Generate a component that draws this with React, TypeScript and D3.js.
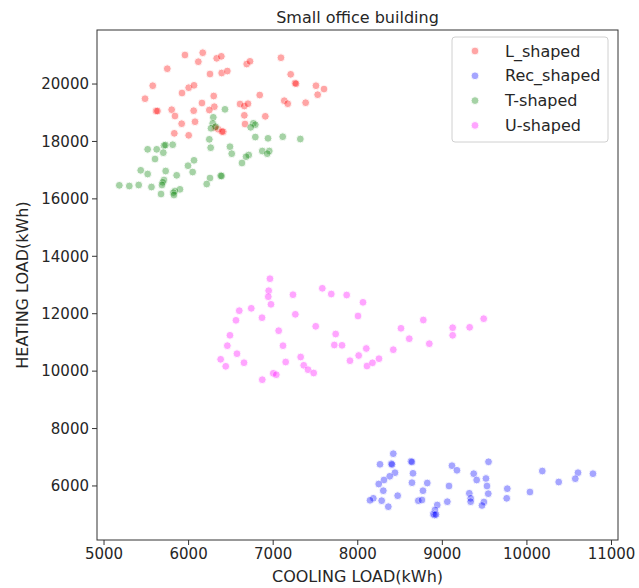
import React from "react";
import * as d3 from "d3";

type P = [number, number];

const lShaped: P[] = [
  [5957, 21011], [6167, 21090], [6115, 20777], [6332, 20896], [6387, 20965],
  [5748, 20533], [5576, 19941], [6253, 20349], [6391, 20384], [6458, 20453],
  [6687, 20697], [6726, 20791], [7092, 20916], [7207, 20338], [7258, 20035],
  [7270, 20010], [7506, 19941], [7601, 19826], [7526, 19628], [5922, 19687],
  [6001, 19872], [6064, 19955], [6297, 19583], [6841, 19617], [6158, 19339],
  [6304, 19210], [6245, 19095], [6060, 19071], [5800, 19105], [5615, 19060],
  [5632, 19060], [5839, 18886], [6608, 19304], [6659, 19234], [6702, 19314],
  [7131, 19419], [7172, 19314], [7384, 19349], [6659, 18910], [6907, 18875],
  [6667, 18607], [6076, 18687], [5918, 18618], [5831, 18283], [6001, 18214],
  [6351, 18423], [6410, 18339], [6395, 18345], [6312, 18479], [5485, 19489],
];

const recShaped: P[] = [
  [8420, 7124], [8263, 6755], [8397, 6776], [8405, 6748], [8629, 6859],
  [8641, 6835], [8653, 6441], [8641, 6114], [8822, 6103], [8771, 5835],
  [9114, 6706], [9173, 6546], [9546, 6842], [9371, 6427], [9406, 6208],
  [9516, 6260], [9528, 5999], [9543, 5731], [9768, 5905], [9761, 5570],
  [8440, 6462], [8378, 6337], [8310, 6208], [8248, 6068], [8302, 5835],
  [8472, 5661], [8184, 5570], [8145, 5501], [8283, 5487], [8361, 5278],
  [8716, 5487], [8759, 5511], [9079, 5999], [9059, 5452], [9319, 5745],
  [9335, 5570], [9335, 5452], [9492, 5442], [9469, 5320], [8940, 5337],
  [8913, 5163], [8893, 5024], [8907, 4989], [8925, 5006], [10182, 6521],
  [10036, 5790], [10376, 6138], [10604, 6462], [10572, 6253], [10781, 6427],
];

const tShaped: P[] = [
  [6430, 19119], [6292, 18841], [6285, 18632], [6265, 18458], [6320, 18513],
  [6765, 18632], [6789, 18583], [6734, 18492], [6789, 18154], [6939, 18109],
  [7113, 18165], [7321, 18085], [6245, 18074], [6261, 17782], [6489, 17817],
  [6510, 17573], [5709, 17858], [5727, 17876], [5812, 17886], [5623, 17726],
  [5701, 17608], [5516, 17726], [5603, 17388], [6711, 17528], [6679, 17468],
  [6631, 17249], [6871, 17667], [6954, 17667], [6930, 17573], [6064, 17343],
  [5993, 17155], [6048, 16935], [5729, 16970], [5859, 16821], [5434, 16995],
  [5516, 16866], [6379, 16807], [6389, 16796], [6253, 16726], [6214, 16517],
  [5709, 16657], [5694, 16577], [5561, 16413], [5685, 16483], [5898, 16333],
  [5839, 16274], [5819, 16214], [5674, 16169], [5827, 16134], [5181, 16472],
  [5299, 16448], [5410, 16483],
];

const uShaped: P[] = [
  [6962, 13219], [6947, 12801], [6942, 12592], [6974, 12327], [7234, 12662],
  [7581, 12885], [7687, 12686], [7869, 12651], [8062, 12397], [8003, 11920],
  [6599, 12105], [6741, 12188], [6560, 11770], [6868, 11861], [7262, 11979],
  [7503, 11561], [7065, 11408], [6489, 11248], [6458, 10886], [7116, 10886],
  [6572, 10607], [7739, 11293], [7723, 10910], [7814, 10899], [8101, 10788],
  [8011, 10544], [7908, 10363], [8251, 10433], [8109, 10178], [8174, 10290],
  [6379, 10412], [6439, 10168], [6655, 10293], [7325, 10492], [7361, 10203],
  [7412, 10050], [7479, 9935], [7148, 10318], [7001, 9924], [7037, 9875],
  [6871, 9701], [8775, 11781], [8511, 11492], [9122, 11512], [9323, 11526],
  [9489, 11826], [9122, 11248], [8609, 11129], [8846, 10955], [8420, 10746],
];

const seriesNames = ["L_shaped", "Rec_shaped", "T-shaped", "U-shaped"];
const seriesData = [lShaped, recShaped, tShaped, uShaped];
const seriesColors = ["#ff0000", "#0000ff", "#008000", "#ff00ff"];

const xTicks = [5000, 6000, 7000, 8000, 9000, 10000, 11000];
const yTicks = [6000, 8000, 10000, 12000, 14000, 16000, 18000, 20000];

const title = "Small office building";
const xLabel = "COOLING LOAD(kWh)";
const yLabel = "HEATING LOAD(kWh)";

const W = 639;
const H = 588;
const left = 97;
const right = 618;
const top = 30;
const bottom = 540;
const FONT = "DejaVu Sans, sans-serif";
const ALPHA = 0.35;
const R = 3.9;

export default function App() {
  const x = d3.scaleLinear().domain([4917, 11077]).range([left, right]);
  const y = d3.scaleLinear().domain([4118, 21882]).range([bottom, top]);
  const textColor = "#262626";

  return (
    <svg
      width={W}
      height={H}
      style={{ position: "absolute", left: 0, top: 0, background: "#fff" }}
      fontFamily={FONT}
    >
      <rect x={0} y={0} width={W} height={H} fill="#fff" />
      {/* points */}
      <g>
        {seriesData.map((data, si) =>
          data.map((d, i) => (
            <circle
              key={`${si}-${i}`}
              cx={x(d[0])}
              cy={y(d[1])}
              r={R}
              fill={seriesColors[si]}
              stroke="#fff"
              strokeWidth={0.9}
              opacity={ALPHA}
            />
          ))
        )}
      </g>
      {/* frame */}
      <rect
        x={left}
        y={top}
        width={right - left}
        height={bottom - top}
        fill="none"
        stroke="#333"
        strokeWidth={1}
      />
      {/* x ticks */}
      {xTicks.map((t) => (
        <g key={`x${t}`}>
          <line x1={x(t)} x2={x(t)} y1={bottom} y2={bottom + 5} stroke="#333" strokeWidth={1} />
          <text x={x(t)} y={bottom + 19} textAnchor="middle" fontSize={15} fill={textColor}>
            {t}
          </text>
        </g>
      ))}
      {/* y ticks */}
      {yTicks.map((t) => (
        <g key={`y${t}`}>
          <line x1={left - 5} x2={left} y1={y(t)} y2={y(t)} stroke="#333" strokeWidth={1} />
          <text
            x={left - 8}
            y={y(t)}
            dy="0.35em"
            textAnchor="end"
            fontSize={15}
            fill={textColor}
          >
            {t}
          </text>
        </g>
      ))}
      {/* labels */}
      <text
        x={(left + right) / 2}
        y={582}
        textAnchor="middle"
        fontSize={16}
        fill={textColor}
      >
        {xLabel}
      </text>
      <text
        transform={`translate(28,${(top + bottom) / 2}) rotate(-90)`}
        textAnchor="middle"
        fontSize={16}
        fill={textColor}
      >
        {yLabel}
      </text>
      <text
        x={(left + right) / 2}
        y={23}
        textAnchor="middle"
        fontSize={16}
        fill={textColor}
      >
        {title}
      </text>
      {/* legend */}
      <g>
        <rect
          x={452}
          y={37}
          width={156}
          height={105}
          rx={3}
          fill="#fff"
          fillOpacity={0.8}
          stroke="#d0d0d0"
          strokeWidth={1}
        />
        {seriesNames.map((n, i) => (
          <g key={n} transform={`translate(0,${51 + i * 24.8})`}>
            <circle
              cx={475}
              cy={0}
              r={R}
              fill={seriesColors[i]}
              stroke="#fff"
              strokeWidth={0.9}
              opacity={ALPHA}
            />
            <text x={505} y={0} dy="0.35em" fontSize={16} fill={textColor}>
              {n}
            </text>
          </g>
        ))}
      </g>
    </svg>
  );
}
